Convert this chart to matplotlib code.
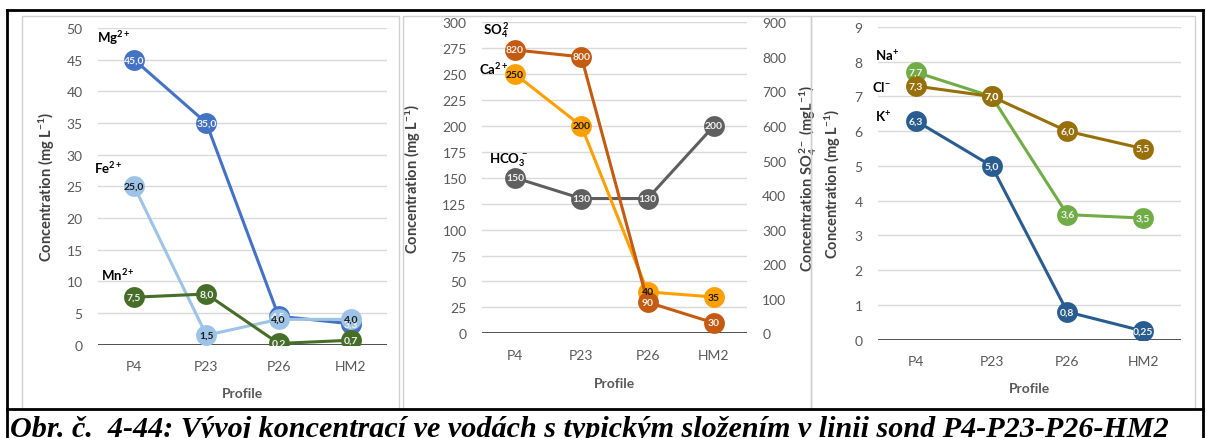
import numpy as np
import matplotlib
matplotlib.use("Agg")
import matplotlib.pyplot as plt
from matplotlib.patches import Rectangle
from matplotlib.lines import Line2D

plt.rcParams['font.family'] = ['Lato', 'DejaVu Sans']
plt.rcParams['mathtext.fontset'] = 'custom'
plt.rcParams['mathtext.rm'] = 'Lato'
plt.rcParams['mathtext.bf'] = 'Lato:bold'
plt.rcParams['mathtext.it'] = 'Lato:italic'

# data
profiles = ['P4', 'P23', 'P26', 'HM2']

mg = [45.0, 35.0, 4.5, 3.3]
fe = [25.0, 1.5, 4.0, 4.0]
mn = [7.5, 8.0, 0.2, 0.7]

hco3 = [150, 130, 130, 200]
ca = [250, 200, 40, 35]
so4 = [820, 800, 90, 30]      # right axis

k = [6.3, 5.0, 0.8, 0.25]
na = [7.7, 7.0, 3.6, 3.5]
cl = [7.3, 7.0, 6.0, 5.5]

W, H = 1206, 439
fig = plt.figure(figsize=(W / 100, H / 100), dpi=100)


def rect(x0, y0, x1, y1):
    # pixel box -> figure fraction
    return [x0 / W, 1 - y1 / H, (x1 - x0) / W, (y1 - y0) / H]


def fmt(v, dec):
    if dec is None:
        return str(v)
    return f"{v:.{dec}f}".replace('.', ',')


TICK = '#595959'
GRID = '#D9D9D9'
MS = 15
LW = 2.2


def style(ax, ymax, step, ylab_x, xlab_y):
    ax.set_xlim(-0.5, 3.5)
    ax.set_ylim(0, ymax)
    ax.set_yticks(np.arange(0, ymax + step / 2, step))
    ax.set_xticks(range(4))
    ax.set_xticklabels(profiles)
    for s in ax.spines.values():
        s.set_visible(False)
    ax.tick_params(length=0, colors=TICK, labelsize=10, pad=11)
    ax.grid(axis='y', color=GRID, lw=1)
    ax.set_axisbelow(True)
    ax.axhline(0, color='#404040', lw=2, zorder=1.5)
    ax.set_ylabel(r'Concentration (mg L$\mathbf{^{-1}}$)', fontsize=10.5,
                  fontweight='bold', color='#404040')
    ax.yaxis.set_label_coords(ylab_x, 0.5)
    ax.set_xlabel('Profile', fontsize=10, fontweight='bold', color=TICK)
    ax.xaxis.set_label_coords(0.5, xlab_y)


def series(ax, vals, color, tcolor, dec, lab_ax=None, trans=None):
    x = np.arange(len(vals))
    ax.plot(x, vals, color=color, lw=LW, marker='o', ms=MS,
            markeredgewidth=0, zorder=3)
    tgt = lab_ax if lab_ax is not None else ax
    tr = trans if trans is not None else ax.transData
    for xi, v in zip(x, vals):
        tgt.text(xi, v, fmt(v, dec), ha='center', va='center', fontsize=7.5,
                 fontweight='bold', color=tcolor, zorder=6, transform=tr)


# panel 1
ax1 = fig.add_axes(rect(98, 29, 387, 345.7))
style(ax1, 50, 5, -0.142, -0.134)
series(ax1, mg, '#4472C4', '#F2F2F2', 1)
series(ax1, fe, '#9DC3E6', '#1A1A1A', 1)
series(ax1, mn, '#476E29', '#F2F2F2', 1)

# panel 2
ax2 = fig.add_axes(rect(482, 23.3, 747, 334.3))
style(ax2, 300, 25, -0.223, -0.14)
ax2r = ax2.twinx()
ax2r.set_ylim(0, 900)
ax2r.set_yticks(np.arange(0, 901, 100))
for s in ax2r.spines.values():
    s.set_visible(False)
ax2r.tick_params(length=0, colors=TICK, labelsize=10, pad=11)
ax2r.set_ylabel(r'Concentration SO$\mathbf{_4^{\,2-}}$ (mgL$\mathbf{^{-1}}$)',
                fontsize=10.5, fontweight='bold', color='#404040')
ax2r.yaxis.set_label_coords(1.192, 0.5)
series(ax2, hco3, '#5F5F5F', '#F2F2F2', None, lab_ax=ax2r, trans=ax2.transData)
series(ax2, ca, '#FFA000', '#1A1A1A', None, lab_ax=ax2r, trans=ax2.transData)
series(ax2r, so4, '#C55A11', '#F2F2F2', None)

# panel 3
ax3 = fig.add_axes(rect(878, 28, 1181, 340.7))
style(ax3, 9, 1, -0.116, -0.135)
series(ax3, k, '#2A5D8F', '#F2F2F2', None)
series(ax3, na, '#70AD47', '#F2F2F2', None)
series(ax3, cl, '#98700A', '#F2F2F2', None)
# one-decimal labels on panel 3 except 0,25
for t in ax3.texts:
    v = float(t.get_text())
    t.set_text('0,25' if abs(v - 0.25) < 1e-9 else fmt(v, 1))

# series names
names = [
    (97, 38, r'$\mathbf{Mg^{2+}}$'),
    (94, 168, r'$\mathbf{Fe^{2+}}$'),
    (101, 275, r'$\mathbf{Mn^{2+}}$'),
    (483, 30, r'$\mathbf{SO_4^{\,2}}$'),
    (479, 69, r'$\mathbf{Ca^{2+}}$'),
    (489, 160, r'$\mathbf{HCO_3^{\,-}}$'),
    (875, 56, r'$\mathbf{Na^{+}}$'),
    (872, 87, r'$\mathbf{Cl^{-}}$'),
    (875, 117, r'$\mathbf{K^{+}}$'),
]
for x, y, s in names:
    fig.text(x / W, 1 - y / H, s, ha='left', va='center', fontsize=9.5,
             color='black')

# panel frames
for x0, x1 in [(22, 399), (403, 811), (811, 1195)]:
    fig.add_artist(Rectangle((x0 / W, 1 - 410 / H), (x1 - x0) / W,
                             (410 - 17) / H, transform=fig.transFigure,
                             fill=False, edgecolor='#D0D0D0', lw=1))

# outer black frame and caption separator
for xs, ys in [((7, 1203), (10.7, 10.7)), ((7, 7), (10.7, 439)),
               ((1203, 1203), (10.7, 439)), ((7, 1203), (410, 410))]:
    fig.add_artist(Line2D([xs[0] / W, xs[1] / W],
                          [1 - ys[0] / H, 1 - ys[1] / H],
                          transform=fig.transFigure, color='black', lw=2))

fig.text(10 / W, 1 - 437 / H,
         'Obr. č.  4-44: Vývoj koncentrací ve vodách s typickým složením v linii sond P4-P23-P26-HM2',
         family='Liberation Serif', fontweight='bold', style='italic',
         fontsize=21.7, ha='left', va='baseline')

fig.savefig('out.png', dpi=100)
